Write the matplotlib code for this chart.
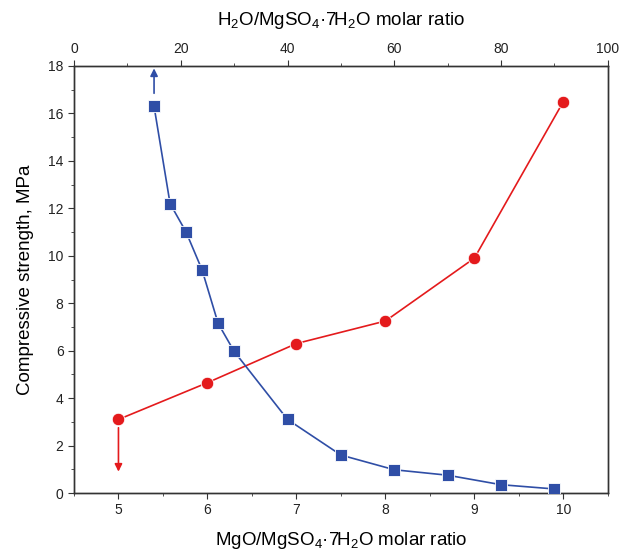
import matplotlib
matplotlib.use('Agg')
import matplotlib.pyplot as plt
from matplotlib.ticker import MultipleLocator

plt.rcParams['font.family'] = ['Liberation Sans', 'DejaVu Sans']
plt.rcParams['mathtext.fontset'] = 'custom'
plt.rcParams['mathtext.rm'] = 'Liberation Sans'

# MgO/MgSO4·7H2O molar ratio series (bottom axis)
mgo_ratio = [5, 6, 7, 8, 9, 10]
mgo_strength = [3.1, 4.65, 6.3, 7.25, 9.9, 16.5]

# H2O/MgSO4·7H2O molar ratio series (top axis)
h2o_ratio = [15, 18, 21, 24, 27, 30, 40, 50, 60, 70, 80, 90]
h2o_strength = [16.3, 12.2, 11.0, 9.4, 7.15, 5.97, 3.1, 1.6, 0.98, 0.75, 0.35, 0.17]

red = '#e41a1c'
blue = '#2f4ea6'
spine_col = '#333333'

fig = plt.figure(figsize=(6.19, 5.56), dpi=100)
ax = fig.add_axes([0.1195, 0.1133, 0.8625, 0.768])

ax.plot(mgo_ratio, mgo_strength, color=red, lw=1.2, marker='o', ms=9,
        markeredgecolor='white', markeredgewidth=0.6, zorder=3)
ax.set_xlim(4.5, 10.5)
ax.set_ylim(0, 18)
ax.xaxis.set_major_locator(MultipleLocator(1))
ax.xaxis.set_minor_locator(MultipleLocator(0.5))
ax.yaxis.set_major_locator(MultipleLocator(2))
ax.yaxis.set_minor_locator(MultipleLocator(1))
ax.tick_params(which='both', direction='out', colors=spine_col, labelcolor='#222222',
               labelsize=10)
ax.tick_params(which='major', length=4)
ax.tick_params(which='minor', length=2.5)
ax.set_xlabel(r'MgO/MgSO$\mathregular{_4}$·7H$\mathregular{_2}$O molar ratio',
              fontsize=13.5, labelpad=9)
ax.set_ylabel('Compressive strength, MPa', fontsize=13.5, labelpad=10)

# arrow below the first red point
ax.annotate('', xy=(5, 0.9), xytext=(5, 2.75),
            arrowprops=dict(arrowstyle='-|>', color=red, lw=1.2,
                            mutation_scale=11, shrinkA=0, shrinkB=0))

ax2 = ax.twiny()
ax2.plot(h2o_ratio, h2o_strength, color=blue, lw=1.2, marker='s', ms=8,
         markeredgecolor='white', markeredgewidth=0.6, zorder=3)
ax2.set_xlim(0, 100)
ax2.xaxis.set_major_locator(MultipleLocator(20))
ax2.xaxis.set_minor_locator(MultipleLocator(10))
ax2.tick_params(which='both', direction='out', colors=spine_col, labelcolor='#222222',
                labelsize=10)
ax2.tick_params(which='major', length=4)
ax2.tick_params(which='minor', length=2.5)
ax2.set_xlabel(r'H$\mathregular{_2}$O/MgSO$\mathregular{_4}$·7H$\mathregular{_2}$O molar ratio',
               fontsize=13.5, labelpad=12)

# arrow above the first blue point
ax2.annotate('', xy=(15, 17.9), xytext=(15, 16.85),
             arrowprops=dict(arrowstyle='-|>', color=blue, lw=1.2,
                             mutation_scale=11, shrinkA=0, shrinkB=0))

for a in (ax, ax2):
    for s in a.spines.values():
        s.set_color(spine_col)
        s.set_linewidth(1.0)

fig.savefig('out.png', dpi=100)
